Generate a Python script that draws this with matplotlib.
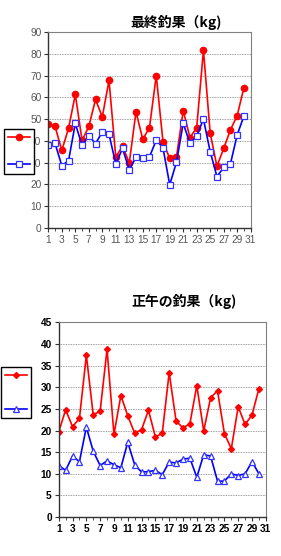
import matplotlib
matplotlib.use('Agg')
import matplotlib.pyplot as plt
from matplotlib.ticker import MultipleLocator, FixedLocator

plt.rcParams['font.family'] = ['Liberation Sans', 'Noto Sans CJK JP', 'DejaVu Sans']

days = list(range(1, 31))
day_ticks = list(range(1, 32, 2))

# 最終釣果
final_red = [47.7, 46.6, 35.6, 45.8, 61.3, 40.2, 46.6, 59.0, 51.0, 67.8,
             32.5, 37.6, 29.8, 53.4, 40.7, 46.1, 70.0, 39.6, 31.9, 32.5,
             53.9, 41.5, 46.1, 81.6, 43.5, 28.3, 36.5, 45.0, 51.6, 64.4]
final_blue = [37.9, 38.8, 28.6, 30.9, 48.0, 37.9, 42.4, 38.7, 44.1, 43.0,
              29.4, 36.5, 26.7, 32.5, 31.9, 32.6, 40.4, 36.8, 19.8, 30.2,
              48.1, 38.8, 42.2, 50.0, 35.0, 23.6, 27.8, 29.4, 42.7, 51.4]

# 正午の釣果
noon_red = [19.7, 24.8, 20.9, 22.8, 37.4, 23.6, 24.5, 38.8, 19.1, 28.1,
            23.4, 19.4, 20.2, 24.7, 18.5, 19.4, 33.4, 22.2, 20.6, 21.6,
            30.4, 19.9, 27.6, 29.2, 19.3, 15.8, 25.5, 21.4, 23.6, 29.7]
noon_blue = [11.9, 10.8, 14.1, 12.8, 20.8, 15.2, 11.9, 13.0, 12.1, 11.4,
             17.3, 12.1, 10.4, 10.5, 10.8, 9.8, 12.7, 12.5, 13.4, 13.6,
             9.2, 14.4, 14.1, 8.3, 8.3, 10.0, 9.6, 10.0, 12.8, 10.0]

fig = plt.figure(figsize=(2.81, 5.56), dpi=100)


def style_axes(ax, ymax, ystep, tick_color, bold):
    ax.set_xlim(1, 31)
    ax.set_ylim(0, ymax)
    ax.xaxis.set_major_locator(FixedLocator(day_ticks))
    ax.xaxis.set_minor_locator(MultipleLocator(1))
    ax.yaxis.set_major_locator(MultipleLocator(ystep))
    ax.grid(axis='y', color='#808080', linestyle=(0, (1, 1)), linewidth=0.6)
    ax.set_axisbelow(True)
    for side in ['top', 'right']:
        ax.spines[side].set_color('#808080')
        ax.spines[side].set_linestyle((0, (1, 1)))
        ax.spines[side].set_linewidth(0.8)
    for side in ['left', 'bottom']:
        ax.spines[side].set_color('#333333')
        ax.spines[side].set_linewidth(1.0)
    ax.tick_params(axis='both', which='both', direction='out', color='#333333',
                   labelcolor=tick_color, labelsize=7.3, pad=2)
    ax.tick_params(axis='x', which='major', length=3)
    ax.tick_params(axis='x', which='minor', length=2)
    ax.tick_params(axis='y', length=3)
    if bold:
        for lab in ax.get_xticklabels() + ax.get_yticklabels():
            lab.set_fontweight('bold')


def add_legend(handles, anchor, spacing):
    fig.legend(handles, ['', ''], loc='upper left', bbox_to_anchor=anchor,
               fontsize=7, handlelength=2.3, handletextpad=0, borderpad=0.4,
               borderaxespad=0, labelspacing=spacing, fancybox=False,
               edgecolor='black', framealpha=1)


# top chart
ax1 = fig.add_axes([0.172, 0.590, 0.720, 0.3525])
l1, = ax1.plot(days, final_red, color='#ff0000', lw=1.2, marker='o', ms=4.5,
               mfc='#ff0000', mec='#ff0000')
l2, = ax1.plot(days, final_blue, color='#0000ff', lw=1.2, marker='s', ms=4.5,
               mfc='white', mec='#3333ff', mew=0.9)
style_axes(ax1, 90, 10, '#555555', False)
fig.text(0.626, 0.960, '最終釣果（kg)', ha='center', va='center', fontsize=10,
         fontweight='bold', family=['Noto Sans CJK JP', 'DejaVu Sans'])
add_legend([l1, l2], (0.014, 0.768), 1.75)

# bottom chart
ax2 = fig.add_axes([0.209, 0.0701, 0.737, 0.350])
l3, = ax2.plot(days, noon_red, color='#ff0000', lw=1.2, marker='D', ms=3.0,
               mfc='#ff0000', mec='#ff0000')
l4, = ax2.plot(days, noon_blue, color='#0000ff', lw=1.2, marker='^', ms=5.0,
               mfc='white', mec='#3333ff', mew=0.9)
style_axes(ax2, 45, 5, 'black', True)
fig.text(0.655, 0.457, '正午の釣果（kg)', ha='center', va='center', fontsize=10,
         fontweight='bold', family=['Noto Sans CJK JP', 'DejaVu Sans'])
add_legend([l3, l4], (0.004, 0.340), 2.4)

fig.savefig('out.png', dpi=100)
